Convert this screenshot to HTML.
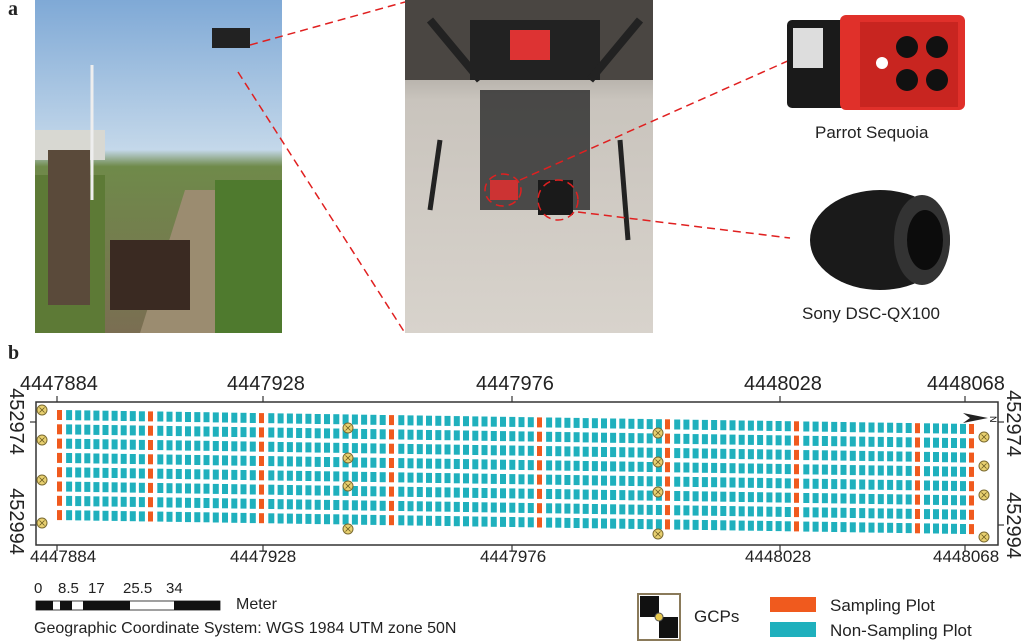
<!DOCTYPE html>
<html><head><meta charset="utf-8"><style>
body{margin:0;width:1024px;height:644px;background:#fff;overflow:hidden;position:relative;font-family:"Liberation Sans",sans-serif}
.t{position:absolute;color:#222;white-space:nowrap}
</style></head><body>
<svg width="1024" height="644" style="position:absolute;left:0;top:0" xmlns="http://www.w3.org/2000/svg">
<defs>
<linearGradient id="sky" x1="0" y1="0" x2="0" y2="1"><stop offset="0" stop-color="#7fa9d6"/><stop offset="0.45" stop-color="#c4d8ea"/><stop offset="0.5" stop-color="#6f8a4a"/><stop offset="1" stop-color="#7a6e52"/></linearGradient>
<linearGradient id="pave" x1="0" y1="0" x2="0" y2="1"><stop offset="0" stop-color="#7a7670"/><stop offset="0.3" stop-color="#c9c4bd"/><stop offset="1" stop-color="#d8d3cc"/></linearGradient>
</defs>
<rect x="35" y="0" width="247" height="333" fill="url(#sky)"/>
<rect x="35" y="130" width="70" height="30" fill="#d8d8d2"/>
<rect x="35" y="175" width="70" height="158" fill="#5d7a36"/>
<rect x="215" y="180" width="67" height="153" fill="#4f7a2e"/>
<polygon points="140,333 185,190 215,190 215,333" fill="#9b8c70"/>
<rect x="48" y="150" width="42" height="155" fill="#5a4a3a"/>
<rect x="110" y="240" width="80" height="70" fill="#3a2a22"/>
<rect x="212" y="28" width="38" height="20" fill="#222"/>
<line x1="92" y1="65" x2="92" y2="200" stroke="#eee" stroke-width="3"/>
<rect x="405" y="0" width="248" height="333" fill="url(#pave)"/>
<rect x="405" y="0" width="248" height="80" fill="#4a4642"/>
<rect x="470" y="20" width="130" height="60" fill="#222"/>
<rect x="480" y="90" width="110" height="120" fill="#333" opacity="0.85"/>
<line x1="430" y1="20" x2="480" y2="80" stroke="#222" stroke-width="8"/>
<line x1="640" y1="20" x2="590" y2="80" stroke="#222" stroke-width="8"/>
<line x1="440" y1="140" x2="430" y2="210" stroke="#222" stroke-width="5"/>
<line x1="620" y1="140" x2="628" y2="240" stroke="#222" stroke-width="5"/>
<rect x="510" y="30" width="40" height="30" fill="#d33"/>
<rect x="490" y="180" width="28" height="20" fill="#c33"/>
<rect x="538" y="180" width="35" height="35" fill="#1a1a1a"/>
<g fill="none" stroke="#e02020" stroke-width="1.5" stroke-dasharray="8,5">
<ellipse cx="503" cy="190" rx="18" ry="16"/>
<ellipse cx="558" cy="200" rx="20" ry="20"/>
<line x1="250" y1="45" x2="405" y2="2"/>
<line x1="238" y1="72" x2="405" y2="333"/>
<line x1="520" y1="180" x2="790" y2="60"/>
<line x1="578" y1="212" x2="790" y2="238"/>
</g>
<rect x="787" y="20" width="60" height="88" rx="5" fill="#1a1a1a"/>
<rect x="793" y="28" width="30" height="40" fill="#ddd"/>
<rect x="840" y="15" width="125" height="95" rx="6" fill="#e0302a"/>
<rect x="860" y="22" width="98" height="85" fill="#c82520"/>
<g fill="#111"><circle cx="907" cy="47" r="11"/><circle cx="937" cy="47" r="11"/><circle cx="907" cy="80" r="11"/><circle cx="937" cy="80" r="11"/></g>
<circle cx="882" cy="63" r="6" fill="#fff"/>
<ellipse cx="880" cy="240" rx="70" ry="50" fill="#1a1a1a"/>
<ellipse cx="922" cy="240" rx="28" ry="45" fill="#333"/>
<ellipse cx="925" cy="240" rx="18" ry="30" fill="#0c0c0c"/>
<rect x="36" y="402" width="962" height="143" fill="#fff" stroke="#333" stroke-width="1.5"/>
<g stroke="#333" stroke-width="1.2">
<line x1="57" y1="396" x2="57" y2="402"/><line x1="263" y1="396" x2="263" y2="402"/><line x1="512" y1="396" x2="512" y2="402"/><line x1="780" y1="396" x2="780" y2="402"/><line x1="965" y1="396" x2="965" y2="402"/>
<line x1="57" y1="545" x2="57" y2="551"/><line x1="263" y1="545" x2="263" y2="551"/><line x1="512" y1="545" x2="512" y2="551"/><line x1="780" y1="545" x2="780" y2="551"/><line x1="965" y1="545" x2="965" y2="551"/>
<line x1="30" y1="422" x2="36" y2="422"/><line x1="30" y1="525" x2="36" y2="525"/>
<line x1="998" y1="422" x2="1004" y2="422"/><line x1="998" y1="525" x2="1004" y2="525"/>
</g>
<g id="plots"></g>
<polygon points="963,413 988,418 963,423 970,418" fill="#222"/>
<text x="992" y="422" font-size="9" font-family="Liberation Sans" transform="rotate(90 994 418)">N</text>
<rect x="36" y="601" width="184" height="9" fill="#fff" stroke="#111" stroke-width="0.8"/>
<rect x="36" y="601" width="17" height="9" fill="#111"/>
<rect x="60" y="601" width="12" height="9" fill="#111"/>
<rect x="83" y="601" width="47" height="9" fill="#111"/>
<rect x="174" y="601" width="46" height="9" fill="#111"/>
<rect x="638" y="594" width="42" height="46" fill="#fff" stroke="#8a7a5a" stroke-width="2"/>
<rect x="640" y="596" width="19" height="21" fill="#111"/><rect x="659" y="617" width="19" height="21" fill="#111"/>
<circle cx="659" cy="617" r="4" fill="#e8c84a" stroke="#555"/>
<rect x="770" y="597" width="46" height="15" fill="#f05a1e"/>
<rect x="770" y="622" width="46" height="15" fill="#1fb0bd"/>
</svg>
<div class="t" style="left:8px;top:-2px;font-size:20px;font-weight:bold;font-family:'Liberation Serif',serif">a</div>
<div class="t" style="left:8px;top:342px;font-size:20px;font-weight:bold;font-family:'Liberation Serif',serif">b</div>
<div class="t" style="left:815px;top:123px;font-size:17px">Parrot Sequoia</div>
<div class="t" style="left:802px;top:304px;font-size:17px">Sony DSC-QX100</div>
<div class="t" style="left:20px;top:373px;font-size:20px">4447884</div>
<div class="t" style="left:227px;top:373px;font-size:20px">4447928</div>
<div class="t" style="left:476px;top:373px;font-size:20px">4447976</div>
<div class="t" style="left:744px;top:373px;font-size:20px">4448028</div>
<div class="t" style="left:927px;top:373px;font-size:20px">4448068</div>
<div class="t" style="left:30px;top:547px;font-size:17px">4447884</div>
<div class="t" style="left:230px;top:547px;font-size:17px">4447928</div>
<div class="t" style="left:480px;top:547px;font-size:17px">4447976</div>
<div class="t" style="left:745px;top:547px;font-size:17px">4448028</div>
<div class="t" style="left:933px;top:547px;font-size:17px">4448068</div>
<div class="t" style="left:-18px;top:410px;font-size:20px;transform:rotate(90deg);transform-origin:center">452974</div>
<div class="t" style="left:-18px;top:510px;font-size:20px;transform:rotate(90deg);transform-origin:center">452994</div>
<div class="t" style="left:979px;top:412px;font-size:20px;transform:rotate(90deg);transform-origin:center">452974</div>
<div class="t" style="left:979px;top:514px;font-size:20px;transform:rotate(90deg);transform-origin:center">452994</div>
<div class="t" style="left:34px;top:580px;font-size:15px">0</div>
<div class="t" style="left:58px;top:580px;font-size:15px">8.5</div>
<div class="t" style="left:88px;top:580px;font-size:15px">17</div>
<div class="t" style="left:123px;top:580px;font-size:15px">25.5</div>
<div class="t" style="left:166px;top:580px;font-size:15px">34</div>
<div class="t" style="left:236px;top:596px;font-size:16px">Meter</div>
<div class="t" style="left:34px;top:620px;font-size:16px">Geographic Coordinate System: WGS 1984 UTM zone 50N</div>
<div class="t" style="left:694px;top:607px;font-size:17px">GCPs</div>
<div class="t" style="left:830px;top:596px;font-size:17px">Sampling Plot</div>
<div class="t" style="left:830px;top:621px;font-size:17px">Non-Sampling Plot</div>
<script>
var g=document.getElementById('plots'),s='';
var orange=[60,151,262,392,540,668,797,918,972];
var xs=[];
for(var i=0;i<orange.length-1;i++){var a=orange[i],b=orange[i+1];var n=Math.round((b-a)/9.3);for(var k=0;k<n;k++)xs.push([a+k*(b-a)/n,k==0]);}
xs.push([972,true]);
for(var c=0;c<xs.length;c++){var x=xs[c][0];var off=(x-60)/912*14;
for(var r=0;r<8;r++){var y=410+off+r*14.3;
s+='<rect x="'+(x-3).toFixed(1)+'" y="'+y.toFixed(1)+'" width="'+(xs[c][1]?5:6)+'" height="10" fill="'+(xs[c][1]?'#f05a1e':'#1fb0bd')+'"/>';}}
var gc=[[42,[410,440,480,523]],[348,[428,458,486,529]],[658,[433,462,492,534]],[984,[437,466,495,537]]];
gc.forEach(function(p){p[1].forEach(function(y){s+='<circle cx="'+p[0]+'" cy="'+y+'" r="5" fill="#e8d070" stroke="#7a6a30"/><path d="M'+(p[0]-2.5)+' '+(y-2.5)+'l5 5M'+(p[0]+2.5)+' '+(y-2.5)+'l-5 5" stroke="#6a5a20" stroke-width="0.8"/>';});});
g.innerHTML=s;
</script>
</body></html>
